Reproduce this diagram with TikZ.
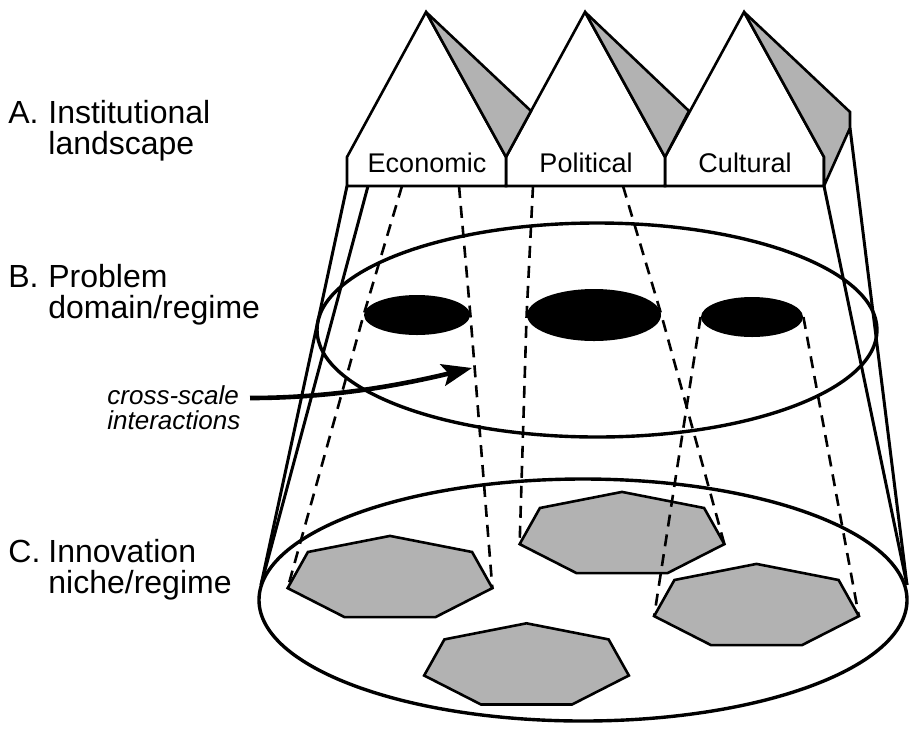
\documentclass[tikz,border=0pt]{standalone}
\usepackage{fontspec}
\setmainfont{Liberation Sans}
\usetikzlibrary{shapes.geometric,arrows.meta,calc}

\begin{document}
\begin{tikzpicture}[
        x=0.5pt, y=-0.5pt,
        font=\fontsize{16}{15.5}\selectfont
    ]
    \tikzset{
        house/.style = {draw=black, line width=1.3pt, fill=white, miter limit=3},
        roofside/.style = {draw=black, line width=1.3pt, fill=gray!60, miter limit=3},
        housetext/.style = {font=\fontsize{13.5}{13.5}\selectfont, anchor=base},
        lbl/.style = {anchor=north west, inner sep=0pt, align=left},
        blob/.style = {ellipse, fill=black, inner sep=0pt},
        level/.style = {ellipse, draw=black, line width=1.7pt, inner sep=0pt},
        hepta/.style = {draw=black, line width=1.3pt, fill=gray!60},
        conel/.style = {line width=1.5pt},
        proj/.style = {line width=1.3pt, dash pattern=on 6pt off 4pt},
        crossarrow/.style = {line width=2.3pt, -{Stealth[length=15pt,width=11pt,inset=3pt]}},
    }
    \useasboundingbox (0,0) rectangle (909,729);
    %
    \node[lbl] at (8,100) (lblA) {\makebox[20pt][l]{A.}Institutional\\\makebox[20pt]{}landscape};
    \node[lbl] at (8,264) (lblB) {\makebox[20pt][l]{B.}Problem\\\makebox[20pt]{}domain/regime};
    \node[lbl] at (8,539) (lblC) {\makebox[20pt][l]{C.}Innovation\\\makebox[20pt]{}niche/regime};
    \node[lbl, font=\fontsize{13}{12.5}\selectfont\itshape] at (107,385) (cross) {cross-scale\\interactions};
    %
    \node[level, minimum width=324pt, minimum height=121pt] at (583,600) (levelC) {};
    \node[level, minimum width=280pt, minimum height=107pt] at (597,330) (levelB) {};
    %
    \foreach \n/\cx/\cy in {E/390/578.6, P/622/534.6, C/756.5/606.6, B/526.5/666}{
        \coordinate (hep\n) at (\cx,\cy);
        \draw[hepta] (hep\n) +(-90:105 and 42.7) -- +(-38.57:105 and 42.7)
            -- +(12.86:105 and 42.7) -- +(64.29:105 and 42.7) -- +(115.71:105 and 42.7)
            -- +(167.14:105 and 42.7) -- +(218.57:105 and 42.7) -- cycle;
        \coordinate (hep\n-w) at ($(hep\n)+(167.14:105 and 42.7)$);
        \coordinate (hep\n-e) at ($(hep\n)+(12.86:105 and 42.7)$);
    }
    %
    \node[blob, minimum width=53pt, minimum height=20pt] at (417,315) (ecoB) {};
    \node[blob, minimum width=67pt, minimum height=26pt] at (594,315) (polB) {};
    \node[blob, minimum width=51pt, minimum height=20pt] at (752,317) (culB) {};
    %
    \draw[house] (665,186) -- (665,157) -- (744,12) -- (824,157) -- (824,186) -- cycle;
    \draw[roofside] (744,12) -- (850,112) -- (850,128) -- (824,186) -- (824,157) -- cycle;
    \draw[house] (506,186) -- (506,157) -- (585,12) -- (665,157) -- (665,186) -- cycle;
    \draw[roofside] (585,12) -- (689,111) -- (665,157) -- cycle;
    \draw[house] (347,186) -- (347,157) -- (426,12) -- (506,157) -- (506,186) -- cycle;
    \draw[roofside] (426,12) -- (531,111) -- (506,157) -- cycle;
    \node[housetext] at (427,172) (eco) {Economic};
    \node[housetext] at (586,172) (pol) {Political};
    \node[housetext] at (745,172) (cul) {Cultural};
    %
    \coordinate (barL) at (347,186);
    \coordinate (barL2) at (368,186);
    \coordinate (barR) at (824,186);
    \coordinate (eaveR) at (850,128);
    \coordinate (coneL) at (261,585);
    \coordinate (coneR) at (907,585);
    \draw[conel] (barL) -- (coneL);
    \draw[conel] (barL2) -- (coneL);
    \draw[conel] (barR) -- (coneR);
    \draw[conel] (eaveR) -- (coneR);
    %
    \coordinate (ecoTop-l) at (402,186);
    \coordinate (ecoTop-r) at (459,186);
    \coordinate (polTop-l) at (533,186);
    \coordinate (polTop-r) at (623,186);
    \draw[proj] (ecoTop-l) -- (ecoB.west) -- (hepE-w);
    \draw[proj] (ecoTop-r) -- (ecoB.east) -- (hepE-e);
    \draw[proj] (polTop-l) -- (polB.west) -- (hepP-w);
    \draw[proj] (polTop-r) -- (polB.east) -- (hepP-e);
    \draw[proj] (culB.west) -- (hepC-w);
    \draw[proj] (culB.east) -- (hepC-e);
    %
    \coordinate (crossStart) at (250,398);
    \coordinate (crossTip) at (472,368);
    \draw[crossarrow] (crossStart) .. controls (335,398) and (405,384) .. (crossTip);
\end{tikzpicture}
\end{document}
